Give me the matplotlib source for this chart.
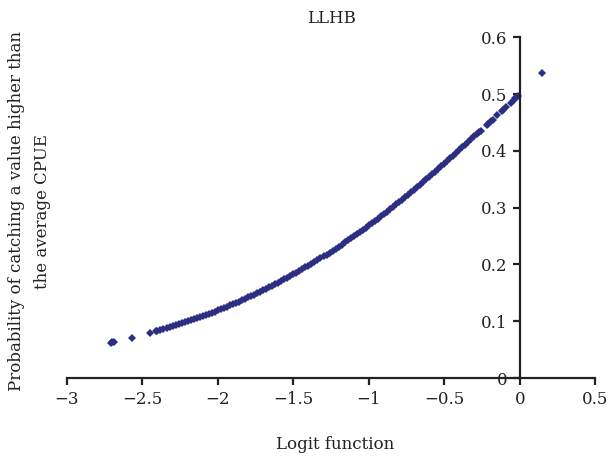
import numpy as np
import matplotlib
matplotlib.use("Agg")
import matplotlib.pyplot as plt
from matplotlib.ticker import FuncFormatter

# points
LOGIT = [-2.71, -2.70, -2.69, -2.57, -2.45, -2.41,
         -2.40, -2.36, -2.32, -2.28, -2.24, -2.20, -2.16, -2.12, -2.08, -2.04,
         -2.00, -1.96, -1.92, -1.88, -1.84, -1.80, -1.76, -1.72, -1.68, -1.64,
         -1.60, -1.56, -1.52, -1.48, -1.44, -1.40, -1.36, -1.32, -1.28, -1.24,
         -1.20, -1.16, -1.12, -1.08, -1.04, -1.00, -0.96, -0.92, -0.88, -0.84,
         -0.80, -0.76, -0.72, -0.68, -0.64, -0.60, -0.56, -0.52, -0.48, -0.44,
         -0.40, -0.36, -0.32, -0.28, -0.27, -0.26, -0.22, -0.21, -0.19, -0.18,
         -0.15, -0.12, -0.11, -0.09, -0.06, -0.04, -0.03, -0.01, 0.15]
PROB = [0.0624, 0.0630, 0.0636, 0.0711, 0.0794, 0.0824,
        0.0832, 0.0863, 0.0895, 0.0928, 0.0962, 0.0998, 0.1034, 0.1072, 0.1111, 0.1151,
        0.1192, 0.1235, 0.1279, 0.1324, 0.1370, 0.1419, 0.1468, 0.1519, 0.1571, 0.1625,
        0.1680, 0.1736, 0.1795, 0.1854, 0.1915, 0.1978, 0.2042, 0.2108, 0.2175, 0.2244,
        0.2315, 0.2387, 0.2460, 0.2535, 0.2611, 0.2689, 0.2769, 0.2850, 0.2932, 0.3016,
        0.3100, 0.3187, 0.3274, 0.3363, 0.3453, 0.3543, 0.3635, 0.3729, 0.3823, 0.3917,
        0.4013, 0.4110, 0.4207, 0.4305, 0.4329, 0.4354, 0.4452, 0.4477, 0.4527, 0.4551,
        0.4626, 0.4700, 0.4725, 0.4775, 0.4850, 0.4900, 0.4925, 0.4975, 0.537]

# second pass of readings, in between the ones above
LOGIT_MID = [-2.38, -2.34, -2.30, -2.26, -2.22, -2.18, -2.14, -2.10, -2.06, -2.02,
             -1.98, -1.94, -1.90, -1.86, -1.82, -1.78, -1.74, -1.70, -1.66, -1.62,
             -1.58, -1.54, -1.50, -1.46, -1.42, -1.38, -1.34, -1.30, -1.26, -1.22,
             -1.18, -1.14, -1.10, -1.06, -1.02, -0.98, -0.94, -0.90, -0.86, -0.82,
             -0.78, -0.74, -0.70, -0.66, -0.62, -0.58, -0.54, -0.50, -0.46, -0.42,
             -0.38, -0.34, -0.30]
PROB_MID = [0.0847, 0.0879, 0.0911, 0.0945, 0.0980, 0.1016, 0.1053, 0.1091, 0.1130, 0.1171,
            0.1213, 0.1256, 0.1301, 0.1347, 0.1394, 0.1443, 0.1493, 0.1545, 0.1598, 0.1652,
            0.1708, 0.1765, 0.1824, 0.1885, 0.1947, 0.2010, 0.2075, 0.2142, 0.2210, 0.2279,
            0.2351, 0.2423, 0.2497, 0.2573, 0.2650, 0.2729, 0.2809, 0.2890, 0.2974, 0.3058,
            0.3144, 0.3230, 0.3318, 0.3407, 0.3498, 0.3589, 0.3682, 0.3775, 0.3870, 0.3965,
            0.4062, 0.4158, 0.4256]

X_TICKS = [-3, -2.5, -2, -1.5, -1, -0.5, 0, 0.5]
Y_TICKS = [0, 0.1, 0.2, 0.3, 0.4, 0.5, 0.6]

FONT = "DejaVu Serif"
NAVY = "#2b2e83"
INK = "#222222"


def fmt(v, pos):
    return ("%g" % v).replace("-", "\u2212")


def main():
    fig = plt.figure(figsize=(6.08, 4.61), dpi=100)
    ax = fig.add_axes([0.110, 0.180, 0.869, 0.739])

    xs = LOGIT + LOGIT_MID
    ys = PROB + PROB_MID
    ax.plot(xs, ys, linestyle="none", marker="D", markersize=3.6,
            markeredgewidth=0, color=NAVY)

    ax.set_xlim(-3, 0.5)
    ax.set_ylim(0, 0.6)
    ax.spines["top"].set_visible(False)
    ax.spines["right"].set_visible(False)
    ax.spines["left"].set_position(("data", 0))
    ax.spines["bottom"].set_position(("data", 0))
    for s in ("left", "bottom"):
        ax.spines[s].set_linewidth(1.6)
        ax.spines[s].set_color(INK)

    ax.set_xticks(X_TICKS)
    ax.set_yticks(Y_TICKS)
    ax.xaxis.set_major_formatter(FuncFormatter(fmt))
    ax.yaxis.set_major_formatter(FuncFormatter(fmt))
    ax.tick_params(direction="out", length=5, width=1.6, color=INK,
                   labelsize=12, labelcolor=INK, pad=4)
    for lab in ax.get_xticklabels() + ax.get_yticklabels():
        lab.set_family(FONT)

    ax.set_title("LLHB", fontsize=12, family=FONT, color=INK, pad=10)
    fig.text(0.551, 0.035, "Logit function", fontsize=12, family=FONT,
             ha="center", va="center", color=INK)
    fig.text(0.049, 0.542,
             "Probability of catching a value higher than\nthe average CPUE",
             rotation=90, fontsize=12, family=FONT, ha="center", va="center",
             multialignment="center", color=INK, linespacing=1.7)

    fig.savefig("out.png", dpi=100)


main()
